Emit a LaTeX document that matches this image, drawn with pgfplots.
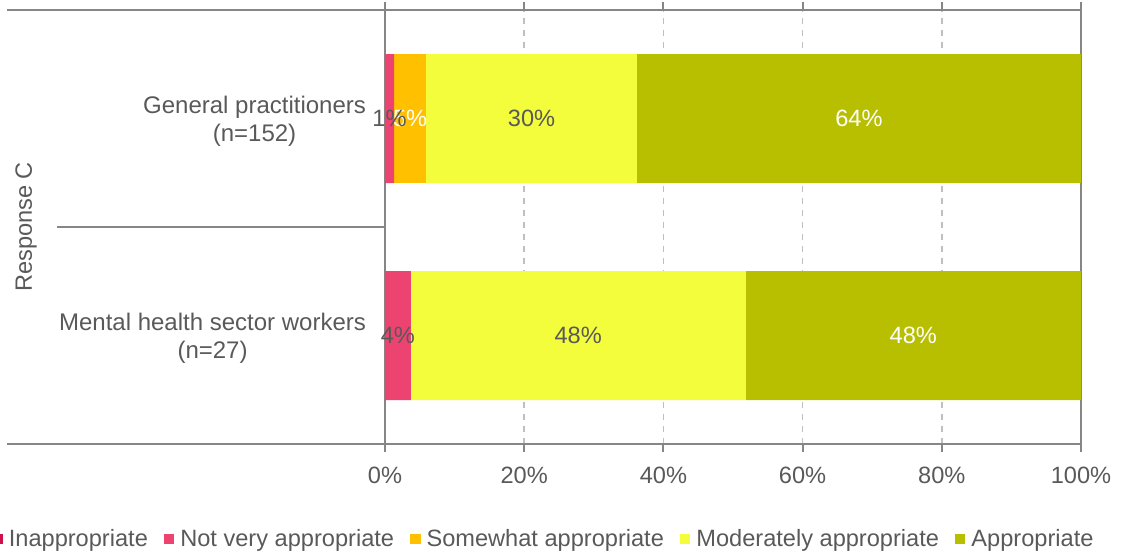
\documentclass[border=0pt]{standalone}
\usepackage{pgfplots}
\pgfplotsset{compat=1.18}
\usepackage{fontspec}
\setmainfont{Liberation Sans}

\definecolor{cInappr}{RGB}{204,18,74}
\definecolor{cNotVery}{RGB}{236,67,112}
\definecolor{cSomewhat}{RGB}{255,192,0}
\definecolor{cModerate}{RGB}{244,253,60}
\definecolor{cAppr}{RGB}{183,191,0}
\definecolor{txtgray}{RGB}{89,89,89}
\definecolor{axgray}{RGB}{134,134,134}
\definecolor{gridgray}{RGB}{191,191,191}

\newcommand{\chartfont}{\fontsize{11.8}{14}\selectfont}
\newcommand{\catfont}{\fontsize{12}{14}\selectfont}

\pgfplotsset{
  sqlegend/.style={legend image code/.code={\fill[##1,draw=none] (0pt,-2.6pt) rectangle (5.2pt,2.6pt);}},
}

\begin{document}
\begin{tikzpicture}
\path[use as bounding box] (0,0) rectangle (562.5pt,277pt);
\begin{axis}[
  at={(192.5pt,55pt)}, anchor=south west,
  scale only axis, width=348pt, height=217pt,
  xbar stacked, bar width=64.5pt,
  xmin=0, xmax=100, ymin=-0.5, ymax=1.5,
  xtick={0,20,...,100},
  xticklabel={\pgfmathprintnumber{\tick}\%},
  /pgf/number format/assume math mode=true,
  ytick={0,1},
  yticklabels={{Mental health sector workers\\(n=27)},{General practitioners\\(n=152)}},
  yticklabel style={align=center, xshift=-2pt, yshift=-1.5pt, font=\catfont},
  xticklabel style={yshift=-4pt},
  ytick style={draw=none},
  xtick style={draw=axgray, line width=1pt},
  tick align=outside,
  major tick length=4pt,
  xmajorgrids, grid style={dashed, gridgray, line width=0.8pt},
  axis line style={axgray, line width=1pt},
  tick label style={font=\chartfont, text=txtgray},
  clip=false,
  point meta=explicit,
  visualization depends on={rawx \as \rawx},
  nodes near coords={\pgfmathfloatifflags{\pgfplotspointmeta}{0}{}{\pgfmathprintnumber[fixed,precision=0]{\pgfplotspointmeta}\%}},
  every node near coord/.append style={anchor=center, font=\chartfont},
  every axis plot post/.append style={sqlegend},
  legend columns=-1,
  legend style={
    at={(-0.5646,-0.2189)}, anchor=west,
    draw=none, fill=none, inner sep=0pt,
    font=\chartfont, text=txtgray,
    /tikz/every odd column/.append style={column sep=1pt},
    /tikz/every even column/.append style={column sep=6pt},
  },
]
% Inappropriate
\addplot[fill=cInappr, draw=none] coordinates {(0,1) [0] (0,0) [0]};
% Not very appropriate
\addplot[fill=cNotVery, draw=none, every node near coord/.append style={text=txtgray}]
  coordinates {(1.3,1) [1.3] (3.7,0) [3.7]};
% Somewhat appropriate
\addplot[fill=cSomewhat, draw=none, every node near coord/.append style={text=white}]
  coordinates {(4.6,1) [4.6] (0,0) [0]};
% Moderately appropriate
\addplot[fill=cModerate, draw=none, every node near coord/.append style={text=txtgray}]
  coordinates {(30.3,1) [30.3] (48.1,0) [48.1]};
% Appropriate
\addplot[fill=cAppr, draw=none, every node near coord/.append style={text=white}]
  coordinates {(63.8,1) [63.8] (48.2,0) [48.2]};
\legend{Inappropriate, Not very appropriate, Somewhat appropriate, Moderately appropriate, Appropriate}

% category group separators extending left of the plot area
\draw[axgray, line width=1pt] (axis cs:0,1.5) -- ++(-189pt,0pt);
\draw[axgray, line width=1pt] (axis cs:0,0.5) -- ++(-164pt,0pt);
\draw[axgray, line width=1pt] (axis cs:0,-0.5) -- ++(-189pt,0pt);
\node[rotate=90, font=\chartfont, text=txtgray] at ([xshift=-179.5pt]axis cs:0,0.5) {Response C};
\end{axis}
\end{tikzpicture}
\end{document}
